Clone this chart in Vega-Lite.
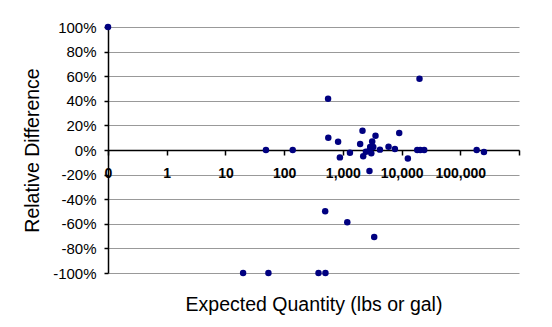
{
  "$schema": "https://vega.github.io/schema/vega-lite/v6.json",
  "autosize": "none",
  "width": 411,
  "height": 246,
  "padding": {"left": 108, "top": 27, "right": 33, "bottom": 54},
  "background": "white",
  "data": {
    "values": [
      {"qty": 0.1, "diff": 1.0},
      {"qty": 49, "diff": 0},
      {"qty": 140, "diff": 0},
      {"qty": 560, "diff": 0.417},
      {"qty": 565, "diff": 0.10},
      {"qty": 830, "diff": 0.068},
      {"qty": 890, "diff": -0.06},
      {"qty": 1320, "diff": -0.022},
      {"qty": 1970, "diff": 0.049},
      {"qty": 2160, "diff": 0.157},
      {"qty": 2220, "diff": -0.051},
      {"qty": 2470, "diff": -0.014},
      {"qty": 2810, "diff": -0.008},
      {"qty": 2920, "diff": 0.024},
      {"qty": 3050, "diff": -0.027},
      {"qty": 3160, "diff": 0.07},
      {"qty": 3300, "diff": 0.024},
      {"qty": 3600, "diff": 0.116},
      {"qty": 4280, "diff": 0.003},
      {"qty": 6000, "diff": 0.027},
      {"qty": 7700, "diff": 0.008},
      {"qty": 9120, "diff": 0.138},
      {"qty": 12800, "diff": -0.07},
      {"qty": 20200, "diff": 0.58},
      {"qty": 18500, "diff": 0},
      {"qty": 20800, "diff": 0},
      {"qty": 24300, "diff": 0},
      {"qty": 190000, "diff": 0},
      {"qty": 253000, "diff": -0.016},
      {"qty": 2840, "diff": -0.17},
      {"qty": 500, "diff": -0.498},
      {"qty": 1190, "diff": -0.588},
      {"qty": 3420, "diff": -0.707},
      {"qty": 385, "diff": -1.0},
      {"qty": 505, "diff": -1.0},
      {"qty": 20, "diff": -1.0},
      {"qty": 54, "diff": -1.0}
    ]
  },
  "mark": {"type": "point", "filled": true, "color": "#000080", "size": 42, "opacity": 1, "clip": false},
  "encoding": {
    "x": {
      "field": "qty",
      "type": "quantitative",
      "scale": {"type": "log", "domain": [0.1, 1000000], "nice": false},
      "axis": {
        "orient": "bottom",
        "offset": -123,
        "values": [0.1, 1, 10, 100, 1000, 10000, 100000, 1000000],
        "labelExpr": "datum.value < 1 ? '0' : (datum.value >= 1000000 ? '' : format(datum.value, ','))",
        "grid": false,
        "domainColor": "black",
        "domainWidth": 1.5,
        "ticks": true,
        "tickColor": "black",
        "tickSize": 5,
        "tickWidth": 1.5,
        "labelFont": "Liberation Sans",
        "labelFontWeight": "bold",
        "labelFontSize": 14,
        "labelColor": "black",
        "labelPadding": 11,
        "labelFlush": false,
        "labelOverlap": false,
        "title": "Expected Quantity (lbs or gal)",
        "titleFont": "Liberation Sans",
        "titleFontSize": 19.5,
        "titleFontWeight": "normal",
        "titleColor": "black",
        "titleY": 160,
        "titleBaseline": "alphabetic"
      }
    },
    "y": {
      "field": "diff",
      "type": "quantitative",
      "scale": {"domain": [-1, 1], "nice": false},
      "axis": {
        "values": [-1, -0.8, -0.6, -0.4, -0.2, 0, 0.2, 0.4, 0.6, 0.8, 1],
        "labelExpr": "(datum.value < -0.0001 ? '-' : '') + format(abs(datum.value), '.0%')",
        "grid": true,
        "gridColor": "#999999",
        "gridWidth": 1,
        "domainColor": "black",
        "domainWidth": 1.5,
        "tickColor": "black",
        "tickSize": 4,
        "tickWidth": 1.5,
        "labelFont": "Liberation Sans",
        "labelFontSize": 15,
        "labelColor": "black",
        "labelPadding": 8,
        "labelBaseline": "middle",
        "labelFlush": false,
        "labelOverlap": false,
        "title": "Relative Difference",
        "titleFont": "Liberation Sans",
        "titleFontSize": 19.5,
        "titleFontWeight": "normal",
        "titleColor": "black",
        "titleX": -70,
        "titleBaseline": "alphabetic"
      }
    }
  },
  "config": {
    "view": {"stroke": null}
  }
}
